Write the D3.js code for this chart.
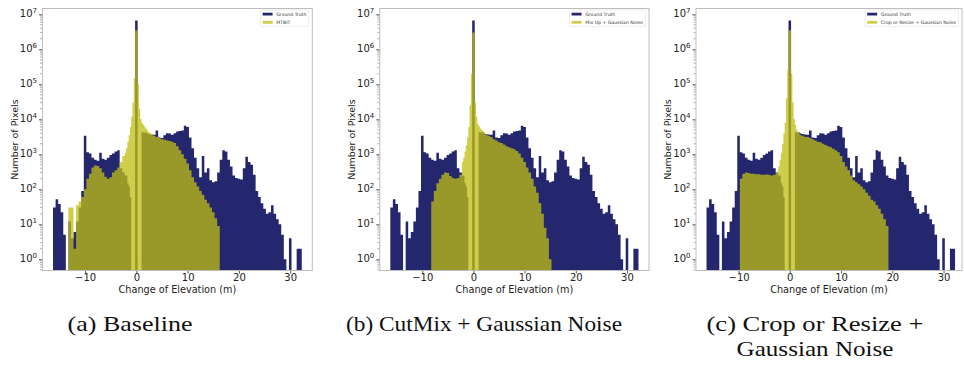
<!DOCTYPE html>
<html><head><meta charset="utf-8">
<script src="https://cdn.jsdelivr.net/npm/d3@7"></script>
<style>body{margin:0;background:#fff} svg{display:block}</style>
</head><body><svg id="c" width="964" height="367"></svg>
<script>
// ---- data: histogram bins given by their edges (finer bins around 0) ----
const binEdges = [-16.25,-15.75,-15.25,-14.75,-14.25,-13.75,-13.25,-12.75,-12.25,-11.75,-11.25,-10.75,-10.25,-9.75,-9.25,-8.75,-8.25,-7.75,-7.25,-6.75,-6.25,-5.75,-5.25,-4.75,-4.25,-3.75,-3.25,-2.75,-2.25,
  -2,-1.75,-1.5,-1.25,-1,-0.75,-0.5,-0.25,0.25,0.5,0.75,1,1.25,1.5,1.75,2,2.25,
  2.75,3.25,3.75,4.25,4.75,5.25,5.75,6.25,6.75,7.25,7.75,8.25,8.75,9.25,9.75,10.25,10.75,11.25,11.75,12.25,12.75,13.25,13.75,14.25,14.75,15.25,15.75,16.25,16.75,17.25,17.75,18.25,18.75,19.25,19.75,20.25,20.75,21.25,21.75,22.25,22.75,23.25,23.75,24.25,24.75,25.25,25.75,26.25,26.75,27.25,27.75,28.25,28.75,29.25,29.75,30.25,30.75,31.25,31.75,32.25];

const groundTruth = [30,52,38,22,5,0,12,4,6,12,30,90,3400,1150,1050,800,700,650,1100,750,700,800,950,1050,1200,1300,400,300,
  250,250,150,120,60,0,0,0,6600000,0,0,0,4300,4300,4200,4200,4000,
  3800,3700,3600,4800,3000,2900,3500,4000,3900,3600,4000,4500,4600,4800,6500,6000,3000,1500,800,400,220,900,300,400,180,160,170,300,700,1300,1200,700,450,250,210,200,190,400,850,600,500,260,90,60,40,28,20,22,35,20,14,10,5,1,0,4,0,0,2,2];

const mtbit = [0,0,0,0,0,0,30,30,2,35,45,60,100,200,280,420,480,460,400,300,230,200,220,300,350,420,600,900,
  1100,1500,2300,3500,6000,12000,30000,150000,3500000,100000,20000,10000,8000,7000,6200,5500,5000,
  4300,3800,3400,3100,2900,2700,2600,2500,2400,2300,2100,1700,1300,1000,750,550,350,220,160,120,90,70,50,40,30,22,15,9,0,0,0,0,0,0,0,0,0,0,0,0,0,0,0,0,0,0,0,0,0,0,0,0,0,0,0,0,0,0,0,0];

const mixupNoise = [0,0,0,0,0,0,0,0,0,0,0,0,0,0,0,0,45,90,150,200,260,300,290,240,210,200,210,260,
  600,800,1200,1800,3000,6000,25000,200000,3000000,30000,12000,7500,6300,5500,5000,4600,4300,
  3700,3400,3100,2700,2500,2200,2100,1900,1700,1600,1500,1400,1250,1050,800,600,420,300,200,120,80,40,20,8,4,1,0,0,0,0,0,0,0,0,0,0,0,0,0,0,0,0,0,0,0,0,0,0,0,0,0,0,0,0,0,0,0,0,0,0];

const cropResizeNoise = [0,0,0,0,0,0,0,0,0,0,0,0,0,200,280,300,290,280,280,270,270,260,260,265,260,250,260,300,
  450,700,1100,2000,4000,8000,40000,250000,3500000,200000,30000,10000,7000,5000,4300,3900,3600,
  3400,3200,3100,2900,2700,2500,2300,2200,2000,1850,1700,1600,1450,1300,1150,900,600,450,350,250,180,160,140,120,100,80,65,50,45,35,28,20,14,9,0,0,0,0,0,0,0,0,0,0,0,0,0,0,0,0,0,0,0,0,0,0,0,0,0,0];

const xTickValues = [-10, 0, 10, 20, 30];
const yTickExponents = [0, 1, 2, 3, 4, 5, 6, 7];
const seriesNames = ["Ground Truth", "MTBIT", "Mix Up + Gaussian Noise", "Crop or Resize + Gaussian Noise"];
const captionLines = [["(a) Baseline"], ["(b) CutMix + Gaussian Noise"], ["(c) Crop or Resize +", "Gaussian Noise"]];
const xLabel = "Change of Elevation (m)";
const yLabel = "Number of Pixels";

// ---- layout ----
const predictions = [mtbit, mixupNoise, cropResizeNoise];
const panels = [
  {left: 42, right: 312.8, xmax: 34.4, cx: 130, capW: [125]},
  {left: 379.3, right: 649.5, xmax: 34.4, cx: 484, capW: [276]},
  {left: 695.5, right: 962.5, xmax: 33.7, cx: 815, capW: [217, 157]}
];
const plotTop = 8, plotBottom = 271;
const gtColor = "#25276e", predColor = "#bfbd14", predOpacity = 0.76;

const svg = d3.select("#c");
const y = d3.scaleLog().domain([Math.pow(10, -0.334), Math.pow(10, 7.18)]).range([plotBottom, plotTop]);
const ymin = y.domain()[0];

panels.forEach((p, i) => {
  const x = d3.scaleLinear().domain([-18.4, p.xmax]).range([p.left, p.right]);
  const g = svg.append("g");

  function stepPoints(counts) {
    const pts = [];
    counts.forEach((c, k) => {
      const v = c > 0 ? c : ymin;
      pts.push([binEdges[k], v]);
      pts.push([binEdges[k + 1], v]);
    });
    return pts;
  }
  const area = d3.area()
    .x(d => x(d[0]))
    .y0(y(ymin))
    .y1(d => y(Math.max(d[1], ymin)));

  const clipId = "clip" + i;
  g.append("clipPath").attr("id", clipId).append("rect")
    .attr("x", p.left).attr("y", plotTop).attr("width", p.right - p.left).attr("height", plotBottom - plotTop);

  g.append("path").datum(stepPoints(groundTruth)).attr("d", area)
    .attr("fill", gtColor).attr("clip-path", `url(#${clipId})`);
  g.append("path").datum(stepPoints(predictions[i])).attr("d", area)
    .attr("fill", predColor).attr("fill-opacity", predOpacity).attr("clip-path", `url(#${clipId})`);

  // frame
  g.append("rect").attr("x", p.left + 0.5).attr("y", plotTop + 0.5)
    .attr("width", p.right - p.left - 1).attr("height", plotBottom - plotTop - 1)
    .attr("fill", "none").attr("stroke", "#bdbdbd").attr("stroke-width", 1);

  // x axis
  const xa = g.append("g").attr("transform", `translate(0,${plotBottom})`)
    .call(d3.axisBottom(x).tickValues(xTickValues).tickSize(2.5).tickPadding(0.5)
      .tickFormat(d => d < 0 ? "\u2212" + Math.abs(d) : d));
  xa.select(".domain").remove();
  xa.selectAll("line").attr("stroke", "#555");
  xa.selectAll("text").attr("font-family", "DejaVu Sans").attr("font-size", 10).attr("fill", "#222");

  // y axis major
  const ya = g.append("g").attr("transform", `translate(${p.left},0)`)
    .call(d3.axisLeft(y).tickValues(yTickExponents.map(e => Math.pow(10, e))).tickSize(3).tickPadding(2).tickFormat(""));
  ya.select(".domain").remove();
  ya.selectAll("line").attr("stroke", "#555");
  ya.selectAll(".tick").each(function(d) {
    const t = d3.select(this).append("text")
      .attr("x", -5).attr("dy", "0.2em")
      .attr("text-anchor", "end")
      .attr("font-family", "DejaVu Sans").attr("font-size", 10).attr("fill", "#222");
    t.append("tspan").text("10");
    t.append("tspan").attr("dy", "-0.55em").attr("font-size", 7).text(Math.round(Math.log10(d)));
  });
  // minor ticks
  const minors = [];
  for (let e = -1; e <= 7; e++) for (let m = 2; m <= 9; m++) {
    const v = m * Math.pow(10, e);
    if (v > ymin && v < y.domain()[1]) minors.push(v);
  }
  g.append("g").selectAll("line").data(minors).join("line")
    .attr("x1", p.left - 2).attr("x2", p.left)
    .attr("y1", d => y(d)).attr("y2", d => y(d))
    .attr("stroke", "#777").attr("stroke-width", 0.6);

  // axis labels
  g.append("text").attr("x", (p.left + p.right) / 2).attr("y", 293)
    .attr("text-anchor", "middle").attr("font-family", "DejaVu Sans").attr("font-size", 9.7)
    .attr("fill", "#222").text(xLabel);
  g.append("text").attr("transform", `translate(${p.left - 24.5},${(plotTop + plotBottom) / 2}) rotate(-90)`)
    .attr("text-anchor", "middle").attr("font-family", "DejaVu Sans").attr("font-size", 9.5)
    .attr("fill", "#222").text(yLabel);

  // legend
  const lg = g.append("g");
  const names = [seriesNames[0], seriesNames[i + 1]];
  const box = lg.append("rect");
  const texts = names.map((n, k) => lg.append("text")
    .attr("y", 15.8 + k * 8.2).attr("font-family", "DejaVu Sans").attr("font-size", 4.6)
    .attr("fill", "#333").text(n));
  const tw = d3.max(texts, t => t.node().getComputedTextLength());
  const bw = 2 + 10 + 3.7 + tw + 2.5;
  const bx = p.right - 4 - bw;
  box.attr("x", bx).attr("y", 10).attr("width", bw).attr("height", 16.7).attr("rx", 1)
    .attr("fill", "#fff").attr("fill-opacity", 0.85).attr("stroke", "#ddd").attr("stroke-width", 0.6);
  texts.forEach(t => t.attr("x", bx + 15.7));
  lg.append("rect").attr("x", bx + 2).attr("y", 12.7).attr("width", 10).attr("height", 2.8).attr("fill", gtColor);
  lg.append("rect").attr("x", bx + 2).attr("y", 20.9).attr("width", 10).attr("height", 2.8)
    .attr("fill", predColor).attr("fill-opacity", predOpacity);

  // caption
  captionLines[i].forEach((line, k) => {
    svg.append("text").attr("x", p.cx).attr("y", 331 + k * 25)
      .attr("text-anchor", "middle").attr("font-family", "Liberation Serif").attr("font-size", 21)
      .attr("fill", "#111")
      .attr("textLength", p.capW[k]).attr("lengthAdjust", "spacingAndGlyphs")
      .text(line);
  });
});
</script></body></html>
